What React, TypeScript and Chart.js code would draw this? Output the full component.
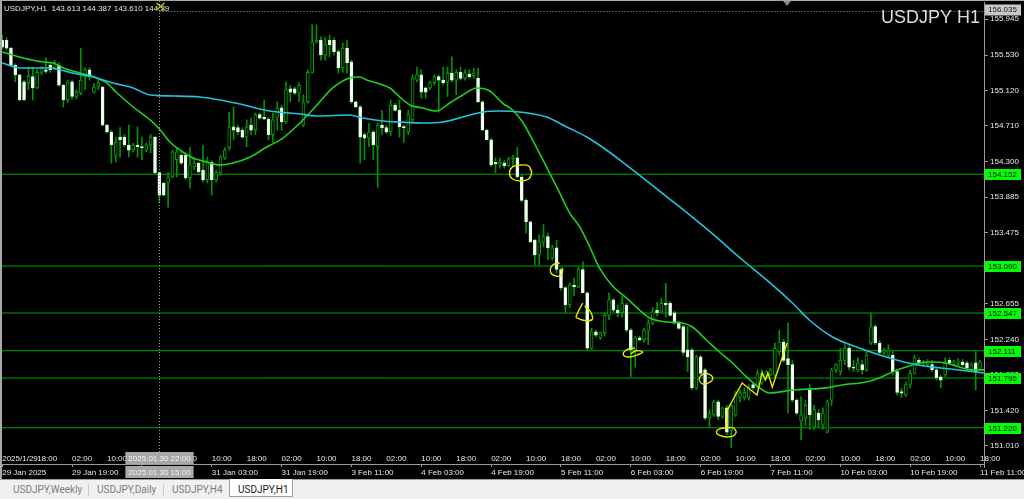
import React, { useEffect, useRef } from "react";
import { Chart, registerables } from "chart.js";

Chart.register(...registerables);

// [open, high, low, close] per H1 bar, bar 0 = 29 Jan 2025 03:00
const ohlc: number[][] = [
  [155.70,155.76,155.60,155.62],[155.70,155.73,155.59,155.61],[155.61,155.62,155.40,155.41],[155.41,155.43,155.22,155.30],
  [155.30,155.31,155.00,155.01],[155.22,155.24,155.00,155.01],[155.21,155.39,155.13,155.28],[155.28,155.39,155.01,155.15],
  [155.15,155.36,155.14,155.33],[155.33,155.40,155.30,155.38],[155.36,155.50,155.32,155.34],[155.41,155.44,155.33,155.36],
  [155.38,155.47,155.36,155.44],[155.41,155.44,155.17,155.18],[155.18,155.19,154.93,155.01],[155.01,155.24,154.98,155.22],
  [155.22,155.24,155.02,155.05],[155.05,155.13,155.02,155.10],[155.09,155.61,155.07,155.24],[155.28,155.38,155.13,155.36],
  [155.36,155.38,155.24,155.28],[155.10,155.20,155.09,155.16],[155.16,155.24,155.13,155.21],[155.16,155.17,154.71,154.72],
  [154.72,154.73,154.63,154.64],[154.64,154.66,154.28,154.49],[154.37,154.58,154.29,154.52],[154.58,154.69,154.35,154.55],
  [154.58,154.61,154.47,154.49],[154.49,154.72,154.35,154.43],[154.43,154.51,154.41,154.49],[154.49,154.70,154.35,154.47],
  [154.47,154.58,154.32,154.46],[154.43,154.51,154.41,154.49],[154.49,154.61,154.40,154.58],[154.58,154.59,154.15,154.17],
  [154.17,154.18,153.82,153.91],[154.05,154.06,153.90,153.91],[154.05,154.17,153.77,154.12],[154.12,154.43,154.11,154.41],
  [154.32,154.46,154.12,154.41],[154.37,154.40,154.26,154.28],[154.37,154.39,154.09,154.11],[154.11,154.46,153.99,154.26],
  [154.24,154.34,154.20,154.28],[154.28,154.29,154.15,154.18],[154.20,154.49,154.06,154.09],[154.09,154.35,154.05,154.29],
  [154.29,154.31,153.91,154.09],[154.09,154.20,154.06,154.17],[154.17,154.37,154.14,154.35],[154.34,154.46,154.32,154.43],
  [154.46,154.87,154.43,154.70],[154.70,154.93,154.55,154.66],[154.69,154.72,154.61,154.64],[154.66,154.69,154.57,154.58],
  [154.58,154.78,154.47,154.70],[154.72,154.80,154.61,154.66],[154.66,154.86,154.61,154.84],[154.84,154.86,154.79,154.80],
  [154.81,155.01,154.78,154.79],[154.79,154.81,154.55,154.61],[154.61,154.86,154.52,154.78],[154.81,154.99,154.66,154.92],
  [154.92,154.95,154.66,154.76],[154.76,155.22,154.74,155.13],[155.14,155.18,154.99,155.10],[155.14,155.16,155.07,155.09],
  [155.09,155.21,154.99,155.18],[154.72,155.07,154.70,154.98],[154.99,155.36,154.97,155.33],[155.33,155.88,155.32,155.68],
  [155.68,155.88,155.67,155.70],[155.70,155.74,155.47,155.53],[155.53,155.73,155.47,155.65],[155.70,155.76,155.51,155.65],
  [155.70,155.73,155.53,155.57],[155.57,155.59,155.32,155.38],[155.38,155.67,155.33,155.61],[155.61,155.70,155.32,155.44],
  [155.45,155.47,154.97,154.99],[154.99,155.00,154.92,154.93],[154.93,154.95,154.28,154.58],[154.61,154.63,154.32,154.57],
  [154.57,154.74,154.47,154.64],[154.64,154.66,154.32,154.49],[154.47,154.74,154.00,154.72],[154.72,154.89,154.61,154.69],
  [154.69,154.72,154.62,154.64],[154.64,155.01,154.60,154.95],[154.95,154.97,154.88,154.89],[154.89,155.01,154.58,154.70],
  [154.70,154.72,154.52,154.69],[154.64,154.89,154.61,154.84],[154.78,155.30,154.76,155.26],[155.24,155.39,155.22,155.30],
  [155.30,155.36,155.03,155.10],[155.15,155.16,155.03,155.10],[155.15,155.23,155.13,155.21],[155.21,155.30,155.18,155.28],
  [155.28,155.30,154.87,155.24],[155.24,155.39,155.18,155.21],[155.22,155.39,155.05,155.32],[155.32,155.51,155.22,155.24],
  [155.24,155.36,155.07,155.33],[155.33,155.39,155.24,155.26],[155.26,155.36,155.24,155.32],[155.31,155.36,155.26,155.28],
  [155.29,155.38,155.26,155.32],[155.26,155.38,154.98,154.99],[154.99,155.00,154.66,154.66],[154.66,154.67,154.55,154.55],
  [154.55,154.57,154.24,154.26],[154.29,154.34,154.17,154.27],[154.27,154.34,154.22,154.29],[154.28,154.31,154.22,154.25],
  [154.25,154.35,154.24,154.33],[154.33,154.37,154.24,154.35],[154.34,154.46,154.11,154.12],[154.12,154.14,153.83,153.85],
  [153.85,153.87,153.47,153.60],[153.60,153.61,153.36,153.37],[153.39,153.40,153.10,153.22],[153.22,153.45,153.10,153.37],
  [153.37,153.57,153.31,153.43],[153.43,153.47,153.16,153.30],[153.18,153.33,153.16,153.30],[153.30,153.39,153.01,153.05],
  [153.05,153.07,152.81,152.84],[152.84,152.85,152.55,152.64],[152.64,152.89,152.61,152.87],[152.87,152.95,152.75,152.85],
  [152.85,153.08,152.84,153.05],[153.05,153.14,152.78,152.78],[152.78,152.79,152.12,152.14],[152.14,152.37,152.12,152.33],
  [152.33,152.35,152.27,152.29],[152.26,152.33,152.24,152.32],[152.32,152.55,152.28,152.52],[152.52,152.78,152.47,152.70],
  [152.70,152.72,152.56,152.58],[152.58,152.64,152.50,152.55],[152.55,152.74,152.50,152.66],[152.64,152.66,152.33,152.35],
  [152.35,152.37,151.81,152.12],[152.12,152.28,151.92,152.26],[152.26,152.28,152.22,152.24],[152.24,152.37,152.21,152.35],
  [152.35,152.47,152.18,152.43],[152.43,152.61,152.41,152.56],[152.58,152.67,152.51,152.55],[152.56,152.72,152.55,152.66],
  [152.66,152.89,152.50,152.64],[152.66,152.68,152.51,152.52],[152.55,152.57,152.42,152.43],[152.44,152.45,152.36,152.37],
  [152.39,152.41,152.06,152.09],[152.12,152.39,151.87,152.04],[152.12,152.14,151.66,151.68],[151.68,152.06,151.66,152.04],
  [152.04,152.06,151.83,151.85],[151.89,151.91,151.31,151.33],[151.33,151.43,151.23,151.39],[151.37,151.54,151.35,151.52],
  [151.52,151.54,151.31,151.35],[151.35,151.46,151.33,151.45],[151.45,151.48,151.14,151.17],[151.19,151.49,150.99,151.48],
  [151.37,151.64,151.35,151.62],[151.57,151.66,151.52,151.62],[151.57,151.68,151.54,151.63],[151.57,151.72,151.54,151.69],
  [151.72,151.74,151.66,151.68],[151.69,151.89,151.68,151.85],[151.74,151.89,151.72,151.85],[151.80,151.88,151.78,151.87],
  [151.83,151.91,151.82,151.89],[151.83,152.20,151.81,152.14],[152.10,152.35,152.06,152.21],[152.21,152.24,151.98,152.00],
  [152.02,152.43,151.39,151.95],[151.95,152.00,151.52,151.54],[151.54,151.56,151.37,151.39],[151.30,151.58,151.08,151.37],
  [151.33,151.54,151.25,151.48],[151.66,151.72,151.20,151.37],[151.23,151.48,151.20,151.43],[151.39,151.43,151.22,151.31],
  [151.25,151.45,151.20,151.39],[151.17,151.54,151.16,151.52],[151.54,151.91,151.48,151.89],[151.89,151.96,151.86,151.95],
  [151.87,152.14,151.83,152.00],[152.00,152.18,151.95,152.14],[152.14,152.17,151.89,151.92],[151.92,152.00,151.87,151.91],
  [151.89,152.03,151.87,151.97],[151.95,152.00,151.84,151.89],[151.89,152.10,151.87,152.06],[152.20,152.55,152.18,152.39],
  [152.39,152.41,152.18,152.20],[152.20,152.23,152.06,152.09],[152.09,152.14,152.06,152.12],[152.06,152.18,152.04,152.12],
  [152.06,152.10,151.83,151.87],[151.87,151.89,151.60,151.63],[151.64,151.68,151.57,151.62],[151.60,151.75,151.58,151.72],
  [151.72,151.89,151.68,151.85],[151.85,152.06,151.84,152.03],[152.00,152.03,151.95,151.97],[151.97,152.00,151.94,151.98],
  [151.95,152.01,151.93,151.98],[151.95,152.00,151.87,151.89],[151.89,151.91,151.77,151.80],[151.81,151.83,151.68,151.77],
  [151.83,152.03,151.81,151.97],[152.00,152.03,151.95,151.97],[151.97,152.00,151.95,151.98],[151.98,152.02,151.94,151.99],
  [151.98,152.01,151.93,151.95],[151.97,151.99,151.89,151.91],[151.89,151.97,151.87,151.95],[151.97,152.10,151.66,151.87],
  [151.91,152.00,151.89,151.98],
];

// moving averages: [bar index, price]
const maFast: number[][] = [
  [0,155.565],[4.8,155.495],[9.4,155.449],[11.7,155.438],[14.0,155.380],[17.8,155.322],[21.7,155.264],[24.0,155.206],
  [26.3,155.091],[30.0,154.929],[33.9,154.779],[36.2,154.663],[38.4,154.524],[40.7,154.432],[43.7,154.339],[46.9,154.293],
  [49.9,154.258],[52.9,154.281],[56.8,154.351],[60.6,154.466],[64.3,154.570],[68.2,154.744],[72.1,154.952],[75.7,155.149],
  [79.6,155.264],[81.9,155.276],[83.5,155.241],[85.8,155.206],[88.8,155.149],[91.1,155.044],[93.4,154.952],[96.3,154.917],
  [99.5,154.883],[102.5,154.975],[105.5,155.068],[108.7,155.149],[111.7,155.114],[114.6,154.975],[116.9,154.894],[119.2,154.755],
  [121.5,154.547],[124.7,154.235],[127.7,153.935],[130.0,153.703],[132.3,153.542],[134.6,153.310],[136.8,153.068],[139.6,152.871],
  [143.0,152.721],[146.0,152.582],[148.3,152.489],[152.2,152.443],[155.8,152.432],[158.1,152.385],[161.3,152.235],[164.3,152.096],
  [167.3,151.969],[170.5,151.808],[173.5,151.681],[175.7,151.623],[181.0,151.657],[188.8,151.681],[192.4,151.715],[197.9,151.750],
  [200.9,151.796],[203.9,151.866],[207.1,151.923],[210.1,151.969],[213.0,151.981],[216.2,151.969],[219.2,151.923],[222.2,151.889],
  [224.9,151.889],
];
const maSlow: number[][] = [
  [0,155.438],[4.1,155.380],[11.0,155.380],[13.3,155.357],[16.2,155.322],[20.8,155.276],[25.4,155.206],[30.0,155.149],
  [33.9,155.068],[39.1,155.056],[45.3,155.044],[49.9,155.010],[54.5,154.963],[61.3,154.883],[68.2,154.848],[72.1,154.825],
  [79.6,154.836],[82.6,154.802],[87.2,154.767],[91.1,154.755],[96.3,154.744],[100.9,154.755],[105.5,154.813],[110.1,154.871],
  [114.0,154.883],[118.5,154.871],[124.7,154.813],[129.3,154.698],[133.9,154.582],[138.4,154.432],[143.0,154.258],[147.7,154.073],
  [152.3,153.888],[156.9,153.704],[162.2,153.484],[169.6,153.160],[175.1,152.929],[181.0,152.663],[184.9,152.466],[190.2,152.270],
  [196.3,152.143],[202.5,152.039],[208.5,151.958],[213.0,151.923],[219.2,151.889],[224.9,151.854],
];

// horizontal levels drawn on the chart
const levels = [154.152, 153.090, 152.547, 152.111, 151.795, 151.220];

// right price scale
const priceTicks = [155.945, 155.530, 155.120, 154.710, 154.300, 153.885, 153.475, 153.065, 152.655, 152.240, 151.830, 151.420, 151.010];

// bottom time scale (every 16 bars) and inner time row (every 8 bars)
const dateTickLabels = [
  "29 Jan 2025", "29 Jan 19:00", "30 Jan 11:00", "31 Jan 03:00", "31 Jan 19:00", "3 Feb 11:00", "4 Feb 03:00", "4 Feb 19:00",
  "5 Feb 11:00", "6 Feb 03:00", "6 Feb 19:00", "7 Feb 11:00", "10 Feb 03:00", "10 Feb 19:00", "11 Feb 11:00",
];
const timeTickLabels = [
  "2025/1/29", "18:00", "02:00", "10:00", "18:00", "02:00", "10:00", "18:00", "02:00", "10:00",
  "18:00", "02:00", "10:00", "18:00", "02:00", "10:00", "18:00", "02:00", "10:00", "18:00",
  "02:00", "10:00", "18:00", "02:00", "10:00", "18:00", "02:00", "10:00", "18:00",
];

// yellow hand drawings: [bar index, price]
const handMarks: number[][][] = [
  [[121.3,154.177],[120.6,154.247],[118.8,154.258],[116.9,154.236],[116.2,154.166],[116.9,154.096],[118.8,154.073],[120.6,154.096],[121.3,154.177],[120.9,154.215]],
  [[127.7,153.125],[126.1,153.102],[125.6,153.021],[126.8,152.975],[128.1,152.987],[128.4,153.068]],
  [[133.0,152.663],[131.8,152.547],[131.6,152.490],[135.0,152.466],[134.8,152.559],[133.4,152.628]],
  [[144.9,152.143],[143.0,152.120],[142.3,152.062],[143.7,152.039],[146.0,152.073],[146.7,152.097],[145.2,152.110],[144.0,152.075]],
  [[160.9,151.854],[159.7,151.796],[160.4,151.727],[162.2,151.750],[162.7,151.808],[161.3,151.854]],
  [[168.2,151.172],[167.5,151.126],[165.9,151.114],[164.1,151.137],[163.6,151.172],[164.3,151.207],[165.9,151.218],[167.5,151.218],[168.2,151.172]],
];
const handTrail: number[][] = [
  [166.1,151.218],[166.1,151.426],[169.5,151.738],[172.9,151.599],[174.1,151.854],[174.8,151.773],[175.4,151.854],[176.4,151.692],[179.8,152.201],
];

const crossIndex = 36;
const crossPrice = 156.035;
const crossTimeTop = "2025.01.30 22:00";
const crossTimeBottom = "2025.01.30 15:00";
const headerText = "USDJPY,H1  143.613 144.387 143.610 144.29";
const titleText = "USDJPY H1";
const tabs = ["USDJPY,Weekly", "USDJPY,Daily", "USDJPY,H4", "USDJPY,H1"];

const FONT = '"Liberation Sans", Arial, sans-serif';
const AXIS = "#9a9a9a";
const TEXT = "#e6e6e6";

const decor = {
  id: "mt4decor",
  beforeDraw(chart: any) {
    const { ctx, width, height } = chart;
    ctx.save();
    ctx.fillStyle = "#000";
    ctx.fillRect(0, 0, width, height);
    ctx.fillStyle = "#a8a8a8";
    ctx.fillRect(0, 0, 2, height);
    ctx.fillRect(0, 0, width, 1);
    ctx.restore();
  },
  afterDraw(chart: any) {
    const { ctx, chartArea: ca } = chart;
    const xs = chart.scales.x;
    const ys = chart.scales.y;
    ctx.save();
    ctx.strokeStyle = AXIS;
    ctx.lineWidth = 1;
    ctx.beginPath();
    ctx.moveTo(Math.round(ca.right) + 0.5, ca.bottom);
    ctx.lineTo(Math.round(ca.right) + 0.5, xs.top + 4);
    ctx.stroke();

    const cx = Math.round(xs.getPixelForValue(crossIndex)) + 0.5;
    const cy = Math.round(ys.getPixelForValue(crossPrice)) + 0.5;
    ctx.setLineDash([1, 2]);
    ctx.strokeStyle = "#a0a0a0";
    ctx.beginPath();
    ctx.moveTo(cx, 1);
    ctx.lineTo(cx, xs.top);
    ctx.moveTo(cx, cy);
    ctx.lineTo(ca.right, cy);
    ctx.stroke();
    ctx.setLineDash([]);

    ctx.font = `8px ${FONT}`;
    ctx.fillStyle = TEXT;
    ctx.textAlign = "left";
    ctx.textBaseline = "middle";
    ctx.fillText(headerText, 4, 9);

    ctx.strokeStyle = "#c8c000";
    ctx.lineWidth = 1.5;
    ctx.beginPath();
    ctx.moveTo(cx - 3, 3); ctx.lineTo(cx + 5, 10);
    ctx.moveTo(cx + 5, 3); ctx.lineTo(cx - 3, 10);
    ctx.stroke();

    ctx.fillStyle = "#8a8a8a";
    ctx.beginPath();
    ctx.moveTo(783, 1); ctx.lineTo(791, 1); ctx.lineTo(787, 6); ctx.closePath();
    ctx.fill();

    ctx.font = `18px ${FONT}`;
    ctx.fillStyle = "#dcdcdc";
    ctx.textAlign = "right";
    ctx.textBaseline = "alphabetic";
    ctx.fillText(titleText, ca.right - 4, 23);

    ctx.font = `8px ${FONT}`;
    ctx.textAlign = "left";
    ctx.textBaseline = "middle";
    for (const v of levels) {
      const y = Math.round(ys.getPixelForValue(v));
      ctx.fillStyle = "#00ff00";
      ctx.fillRect(ca.right + 1, y - 5, 36, 11);
      ctx.fillStyle = "#000";
      ctx.fillText(v.toFixed(3), ca.right + 4, y + 0.5);
    }
    ctx.fillStyle = "#c8c8c8";
    ctx.fillRect(ca.right + 1, cy - 7, 36, 11);
    ctx.fillStyle = "#202020";
    ctx.fillText(crossPrice.toFixed(3), ca.right + 4, cy - 1.5);

    const x2 = chart.scales.x2;
    ctx.font = `8px ${FONT}`;
    const w1 = ctx.measureText(crossTimeTop).width + 6;
    ctx.fillStyle = "#a8a8a8";
    ctx.fillRect(cx - w1 / 2, x2.top, w1, 12);
    ctx.fillStyle = "#f4f4f4";
    ctx.textAlign = "center";
    ctx.fillText(crossTimeTop, cx, x2.top + 6.5);
    const w2 = ctx.measureText(crossTimeBottom).width + 6;
    ctx.fillStyle = "#a8a8a8";
    ctx.fillRect(cx - w2 / 2, xs.top + 2, w2, 12);
    ctx.fillStyle = "#f4f4f4";
    ctx.fillText(crossTimeBottom, cx, xs.top + 8.5);
    ctx.restore();
  },
};

export default function App() {
  const ref = useRef<HTMLCanvasElement>(null);
  useEffect(() => {
    const canvas = ref.current;
    if (!canvas) return;
    const idx = ohlc.map((_, i) => i);
    const bull = ohlc.map((c) => c[3] > c[0]);
    const datasets: any[] = [];
    handMarks.forEach((m, k) =>
      datasets.push({
        type: "line",
        label: "mark" + k,
        data: m.map((p) => ({ x: p[0], y: p[1] })),
        borderColor: "#e6e600",
        borderWidth: 1.4,
        pointRadius: 0,
        tension: 0.45,
        order: 0,
      })
    );
    datasets.push({
      type: "line",
      label: "trail",
      data: handTrail.map((p) => ({ x: p[0], y: p[1] })),
      borderColor: "#e6e600",
      borderWidth: 1.4,
      pointRadius: 0,
      tension: 0,
      order: 0,
    });
    datasets.push({
      type: "line",
      label: "MA slow",
      data: maSlow.map((p) => ({ x: p[0], y: p[1] })),
      borderColor: "#22c4dc",
      borderWidth: 1.6,
      pointRadius: 0,
      cubicInterpolationMode: "monotone",
      order: 1,
    });
    datasets.push({
      type: "line",
      label: "MA fast",
      data: maFast.map((p) => ({ x: p[0], y: p[1] })),
      borderColor: "#1fd01f",
      borderWidth: 1.6,
      pointRadius: 0,
      cubicInterpolationMode: "monotone",
      order: 2,
    });
    datasets.push({
      type: "bar",
      label: "body",
      data: idx.map((i) => ({ x: i, y: [ohlc[i][0], ohlc[i][3]] })),
      backgroundColor: bull.map((b) => (b ? "#000000" : "#ffffff")),
      borderColor: bull.map((b) => (b ? "#00a000" : "#d0ffd0")),
      borderWidth: 1,
      borderSkipped: false,
      barThickness: 3,
      minBarLength: 1,
      grouped: false,
      order: 3,
    });
    datasets.push({
      type: "bar",
      label: "wick",
      data: idx.map((i) => ({ x: i, y: [ohlc[i][2], ohlc[i][1]] })),
      backgroundColor: "#009400",
      borderWidth: 0,
      barThickness: 1,
      grouped: false,
      order: 4,
    });
    levels.forEach((v, k) =>
      datasets.push({
        type: "line",
        label: "level" + k,
        data: [{ x: -2, y: v }, { x: 230, y: v }],
        borderColor: "#00a800",
        borderWidth: 1,
        pointRadius: 0,
        order: 5,
      })
    );

    const tickFont = { family: FONT, size: 8 };
    const chart = new Chart(canvas, {
      type: "bar",
      data: { datasets },
      plugins: [decor],
      options: {
        animation: false,
        responsive: false,
        devicePixelRatio: 1,
        events: [],
        layout: { padding: { left: 2, top: 2, right: 0, bottom: 0 } },
        plugins: { legend: { display: false }, tooltip: { enabled: false }, title: { display: false } },
        scales: {
          x: {
            type: "linear",
            position: "bottom",
            weight: 1,
            min: -0.05,
            max: 224.9,
            offset: false,
            grid: { display: true, drawOnChartArea: false, drawTicks: true, tickLength: 3, color: AXIS, offset: false },
            border: { display: true, color: AXIS },
            ticks: {
              autoSkip: false,
              maxRotation: 0,
              minRotation: 0,
              align: "start",
              padding: 1,
              color: TEXT,
              font: tickFont,
              callback: (_v: any, i: number) => dateTickLabels[i] ?? "",
            },
            afterBuildTicks: (s: any) => {
              s.ticks = dateTickLabels.map((_, k) => ({ value: k * 16 }));
            },
            afterFit: (s: any) => {
              s.height = 16;
              s.paddingLeft = 0;
              s.paddingRight = 0;
            },
          },
          x2: {
            type: "linear",
            position: "bottom",
            weight: 0,
            min: -0.05,
            max: 224.9,
            offset: false,
            grid: { display: false, drawTicks: false, offset: false },
            border: { display: false },
            ticks: {
              autoSkip: false,
              maxRotation: 0,
              minRotation: 0,
              align: "start",
              padding: 2,
              color: TEXT,
              font: tickFont,
              callback: (_v: any, i: number) => timeTickLabels[i] ?? "",
            },
            afterBuildTicks: (s: any) => {
              s.ticks = timeTickLabels.map((_, k) => ({ value: k * 8 }));
            },
            afterFit: (s: any) => {
              s.height = 12;
              s.paddingLeft = 0;
              s.paddingRight = 0;
            },
          },
          y: {
            type: "linear",
            position: "right",
            min: 150.94,
            max: 156.143,
            grid: { display: true, drawOnChartArea: false, drawTicks: true, tickLength: 4, color: AXIS },
            border: { display: true, color: AXIS },
            ticks: {
              padding: 2,
              color: TEXT,
              font: tickFont,
              callback: (v: any) => Number(v).toFixed(3),
            },
            afterBuildTicks: (s: any) => {
              s.ticks = priceTicks.map((v) => ({ value: v }));
            },
            afterFit: (s: any) => {
              s.width = 40;
              s.paddingTop = 0;
              s.paddingBottom = 0;
            },
          },
        },
      } as any,
    });
    return () => chart.destroy();
  }, []);

  const tabLeft = [13, 97, 172, 238];
  return (
    <div style={{ position: "fixed", left: 0, top: 0, width: 1024, height: 499, background: "#000", overflow: "hidden" }}>
      <canvas ref={ref} width={1024} height={480} style={{ display: "block", width: 1024, height: 480 }} />
      <div
        style={{
          position: "absolute",
          left: 0,
          top: 479,
          width: 1024,
          height: 20,
          background: "#f0f0f0",
          borderTop: "1px solid #9c9c9c",
          boxSizing: "border-box",
          fontFamily: "Roboto, 'Liberation Sans', sans-serif",
          fontSize: 10,
        }}
      >
        <div style={{ position: "absolute", left: 229, top: -1, width: 64, height: 18, background: "#fff", border: "1px solid #a0a0a0", borderTop: "none", boxSizing: "border-box" }} />
        <div style={{ position: "absolute", left: 88, top: 4, width: 1, height: 12, background: "#c8c8c8" }} />
        <div style={{ position: "absolute", left: 163, top: 4, width: 1, height: 12, background: "#c8c8c8" }} />
        {tabs.map((t, k) => (
          <span
            key={t}
            style={{
              position: "absolute",
              left: tabLeft[k],
              top: 3,
              lineHeight: "13px",
              color: k === 3 ? "#1a1a1a" : "#7c7c7c",
              whiteSpace: "nowrap",
            }}
          >
            {t}
          </span>
        ))}
      </div>
    </div>
  );
}
